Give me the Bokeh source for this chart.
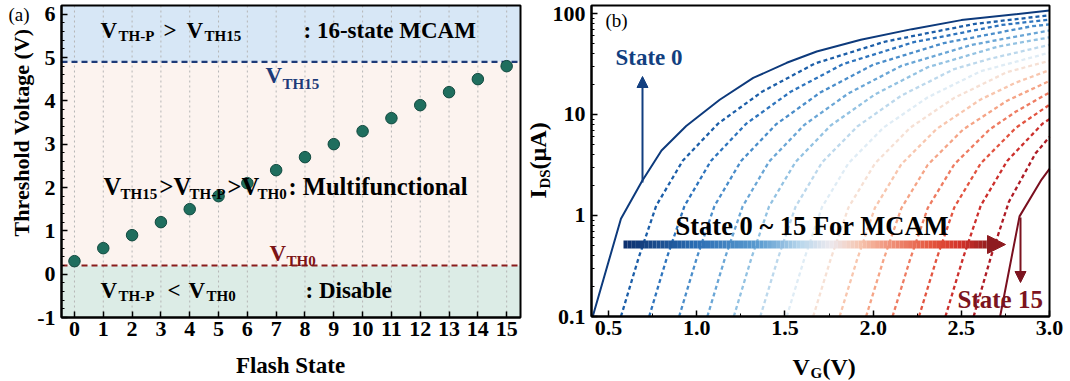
import numpy as np
from bokeh.plotting import figure
from bokeh.models import (Label, Range1d, FixedTicker, PrintfTickFormatter,
                          CustomJSTickFormatter, Arrow, NormalHead, BoxAnnotation,
                          LinearAxis, LogAxis)
from bokeh.layouts import row
from bokeh.embed import file_html
from bokeh.resources import INLINE

# ---------------- data: panel (a) ----------------
flash_state = [0, 1, 2, 3, 4, 5, 6, 7, 8, 9, 10, 11, 12, 13, 14, 15]
threshold_v = [0.3, 0.6, 0.9, 1.2, 1.5, 1.8, 2.1, 2.4, 2.7, 3.0, 3.3, 3.6, 3.9, 4.2, 4.5, 4.8]
vth15_level = 4.9
vth0_level = 0.2
volt_ticks = [-1, 0, 1, 2, 3, 4, 5, 6]

# ---------------- data: panel (b) ----------------
vg_s0 = [0.41, 0.57, 0.69, 0.80, 0.94, 1.13, 1.32, 1.51, 1.68, 1.93, 2.22, 2.50, 3.00]
ids_s0 = [0.10, 0.93, 2.2, 4.4, 7.7, 14, 23, 32.5, 42, 55, 70, 86, 107]
vg_s1 = [0.57, 0.67, 0.77, 0.92, 1.12, 1.37, 1.67, 2.07, 2.57, 3.00]
ids_s1 = [0.10, 0.38, 1.25, 3.48, 8.1, 16.8, 32, 52.8, 78.6, 96]
vg_s2 = [0.73, 0.83, 0.93, 1.08, 1.28, 1.53, 1.83, 2.23, 2.73, 3.00]
ids_s2 = [0.10, 0.38, 1.24, 3.47, 8.1, 16.7, 31.6, 52, 77, 87]
vg_s3 = [0.90, 1.00, 1.10, 1.25, 1.45, 1.70, 2.00, 2.40, 2.90, 3.00]
ids_s3 = [0.10, 0.38, 1.24, 3.45, 8.0, 16.5, 31.1, 50.9, 74.8, 78]
vg_s4 = [1.06, 1.16, 1.26, 1.41, 1.61, 1.86, 2.16, 2.56, 2.81, 3.00]
ids_s4 = [0.10, 0.38, 1.23, 3.42, 7.9, 16.2, 30.3, 49.0, 59, 68]
vg_s5 = [1.21, 1.31, 1.41, 1.56, 1.76, 2.01, 2.31, 2.71, 3.00]
ids_s5 = [0.10, 0.38, 1.23, 3.39, 7.8, 15.8, 29.4, 47.1, 58]
vg_s6 = [1.36, 1.46, 1.56, 1.71, 1.91, 2.16, 2.46, 2.66, 3.00]
ids_s6 = [0.10, 0.375, 1.22, 3.35, 7.6, 15.4, 28.2, 35.5, 49]
vg_s7 = [1.51, 1.61, 1.71, 1.86, 2.06, 2.31, 2.61, 2.81, 3.00]
ids_s7 = [0.10, 0.374, 1.21, 3.29, 7.45, 14.8, 26.8, 33.3, 41]
vg_s8 = [1.66, 1.76, 1.86, 2.01, 2.21, 2.46, 2.76, 3.00]
ids_s8 = [0.10, 0.373, 1.20, 3.27, 7.4, 14.6, 26.3, 34]
vg_s9 = [1.81, 1.91, 2.01, 2.16, 2.36, 2.61, 2.81, 3.00]
ids_s9 = [0.10, 0.371, 1.19, 3.22, 7.2, 14.1, 20.7, 27.5]
vg_s10 = [1.96, 2.06, 2.16, 2.31, 2.51, 2.76, 3.00]
ids_s10 = [0.10, 0.37, 1.18, 3.18, 7.1, 13.7, 21.5]
vg_s11 = [2.11, 2.21, 2.31, 2.46, 2.66, 2.81, 3.00]
ids_s11 = [0.10, 0.37, 1.19, 3.21, 7.1, 10.7, 16.5]
vg_s12 = [2.26, 2.36, 2.46, 2.61, 2.81, 3.00]
ids_s12 = [0.10, 0.373, 1.20, 3.28, 7.4, 12.5]
vg_s13 = [2.41, 2.51, 2.61, 2.76, 2.96, 3.00]
ids_s13 = [0.10, 0.38, 1.25, 3.47, 8.1, 9.0]
vg_s14 = [2.57, 2.67, 2.77, 2.92, 3.00]
ids_s14 = [0.10, 0.40, 1.37, 4.1, 6.0]
vg_s15 = [2.72, 2.83, 2.955, 3.00]
ids_s15 = [0.10, 0.98, 2.27, 2.9]
vg_ticks = [0.5, 1.0, 1.5, 2.0, 2.5, 3.0]
ids_ticks = [0.1, 1, 10, 100]

FONT = "Liberation Serif"
NAVY = "#123f80"
DRED = "#7c1420"
H = 381
W1, W2 = 522, 546


def put(p, fx, fy, px, py, text, size, color="black", style="bold", angle=0.0,
        align="left"):
    """px, py: page pixels of the text start on its baseline (rotated: baseline x)."""
    if angle == 0:
        cx, cy = px, py - 0.36 * size
    else:
        cx, cy = px - 0.36 * size, py
    p.add_layout(Label(x=fx(cx), y=fy(cy), text=text, text_font=FONT,
                       text_font_size=f"{size}px", text_font_style=style,
                       text_color=color, text_align=align,
                       text_baseline="middle", angle=angle))


def style_axis(ax, standoff, size=22):
    ax.axis_line_width = 2
    ax.axis_line_color = "black"
    ax.major_tick_in = 6
    ax.major_tick_out = 0
    ax.minor_tick_in = 3
    ax.minor_tick_out = 0
    ax.major_tick_line_width = 1.5
    ax.minor_tick_line_width = 1
    ax.major_label_text_font = FONT
    ax.major_label_text_font_style = "bold"
    ax.major_label_text_font_size = f"{size}px"
    ax.major_label_text_color = "black"
    ax.major_label_standoff = standoff


# ======================= panel (a) =======================
A_L, A_R, A_T, A_B = 61, 520, 5, 317
AX0, AX1, AY0, AY1 = -0.45, 15.48, -1.0, 6.2
kxa = (AX1 - AX0) / (A_R - A_L)
kya = (AY1 - AY0) / (A_B - A_T)


def ax_x(px):
    return AX0 + (px - A_L) * kxa


def ax_y(py):
    return AY1 - (py - A_T) * kya


pa = figure(width=W1, height=H, x_range=Range1d(ax_x(0), ax_x(W1)),
            y_range=Range1d(ax_y(H), ax_y(0)), output_backend="svg",
            toolbar_location=None, x_axis_location=None, y_axis_location=None,
            min_border=0, min_border_left=0, min_border_right=0,
            min_border_top=0, min_border_bottom=0)
pa.xgrid.visible = False
pa.ygrid.visible = False
pa.outline_line_color = None

pa.add_layout(BoxAnnotation(left=AX0, right=AX1, bottom=vth15_level, top=AY1,
                            fill_color="#d7e7f6", fill_alpha=1, line_alpha=0, level="underlay"))
pa.add_layout(BoxAnnotation(left=AX0, right=AX1, bottom=vth0_level, top=vth15_level,
                            fill_color="#fcf3ef", fill_alpha=1, line_alpha=0, level="underlay"))
pa.add_layout(BoxAnnotation(left=AX0, right=AX1, bottom=AY0, top=vth0_level,
                            fill_color="#dcece6", fill_alpha=1, line_alpha=0, level="underlay"))

pa.segment(x0=flash_state, x1=flash_state, y0=AY0, y1=AY1,
           line_color="#b5b5b5", line_width=1, line_dash="2 3")
pa.segment(x0=AX0, x1=AX1, y0=vth15_level, y1=vth15_level, line_color="#1d3a78",
           line_width=2.2, line_dash="6 4")
pa.segment(x0=AX0, x1=AX1, y0=vth0_level, y1=vth0_level, line_color="#8a1c1c",
           line_width=2.2, line_dash="6 4")

pa.scatter(flash_state, threshold_v, size=11.5, fill_color="#1f6e5e", line_color="#134a40",
           line_width=1)

xa = LinearAxis(fixed_location=AY0, bounds=(AX0, AX1),
                ticker=FixedTicker(ticks=flash_state, minor_ticks=[]))
style_axis(xa, 4)
pa.add_layout(xa, "below")
minor_a = [round(v, 2) for v in np.arange(-1, 6.01, 0.2) if abs(v - round(v)) > 1e-6]
ya = LinearAxis(fixed_location=AX0, bounds=(AY0, AY1),
                ticker=FixedTicker(ticks=volt_ticks, minor_ticks=minor_a),
                formatter=CustomJSTickFormatter(code="return tick.toFixed(0);"))
style_axis(ya, 6)
pa.add_layout(ya, "left")
pa.add_layout(BoxAnnotation(left=AX0, right=AX1, bottom=AY0, top=AY1, fill_alpha=0,
                            line_color="black", line_width=2, line_alpha=1))


def pa_text(px, py, text, size, **kw):
    put(pa, ax_x, ax_y, px, py, text, size, **kw)


M, M2, S = 23, 24.5, 15
# top row
pa_text(100, 38, "V", M)
pa_text(118, 41, "TH-P", S)
pa_text(163, 38, ">", M)
pa_text(186, 38, "V", M)
pa_text(204, 41, "TH15", S)
pa_text(303, 38, ": 16-state MCAM", M)
# middle row
pa_text(103, 195, "V", M2)
pa_text(120, 199, "TH15", S)
pa_text(159, 195, ">V", M2)
pa_text(189, 199, "TH-P", S)
pa_text(227, 195, ">V", M2)
pa_text(257, 199, "TH0", S)
pa_text(288, 195, ": Multifunctional", M2)
# bottom row
pa_text(100, 298, "V", M)
pa_text(118, 301, "TH-P", S)
pa_text(167, 298, "<", M)
pa_text(188, 298, "V", M)
pa_text(206, 301, "TH0", S)
pa_text(305, 298, ": Disable", M)
# level labels
pa_text(265, 83, "V", M, color="#1d3a78")
pa_text(282, 89, "TH15", S, color="#1d3a78")
pa_text(269, 261, "V", M, color="#7c1416")
pa_text(286, 266, "TH0", S, color="#7c1416")
# outside labels
pa_text(29, 132, "Threshold Voltage (V)", 22, angle=np.pi / 2, align="center")
pa_text(290, 373, "Flash State", 23, align="center")
pa_text(8, 21, "(a)", 19, style="normal")

# ======================= panel (b) =======================
OFF = W1  # page x of the left edge of panel (b)
B_L, B_R, B_T, B_B = 591, 1049, 5, 316
BX0, BX1 = 0.403, 3.0
LY_TOP, LY_BOT = np.log10(120.0), -1.0
kxb = (BX1 - BX0) / (B_R - B_L)
kyb = (LY_TOP - LY_BOT) / (B_B - B_T)


def bx_x(px):
    return BX0 + (px - B_L) * kxb


def bx_y(py):
    return 10 ** (LY_TOP - (py - B_T) * kyb)


pb = figure(width=W2, height=H, x_range=Range1d(bx_x(OFF), bx_x(OFF + W2)),
            y_range=Range1d(bx_y(H), bx_y(0)), y_axis_type="log", output_backend="svg",
            toolbar_location=None, x_axis_location=None, y_axis_location=None,
            min_border=0, min_border_left=0, min_border_right=0,
            min_border_top=0, min_border_bottom=0)
pb.xgrid.visible = False
pb.ygrid.visible = False
pb.outline_line_color = None

curves_vg = [vg_s0, vg_s1, vg_s2, vg_s3, vg_s4, vg_s5, vg_s6, vg_s7, vg_s8, vg_s9,
             vg_s10, vg_s11, vg_s12, vg_s13, vg_s14, vg_s15]
curves_ids = [ids_s0, ids_s1, ids_s2, ids_s3, ids_s4, ids_s5, ids_s6, ids_s7, ids_s8,
              ids_s9, ids_s10, ids_s11, ids_s12, ids_s13, ids_s14, ids_s15]
state_colors = ["#0d3a7c", "#1c5ea8", "#2e74bd", "#4a8dca", "#6aa6d6", "#93c2e2",
                "#bcd8ec", "#dfecf5", "#f6e0d4", "#f8c6ae", "#f5a486", "#ee7c62",
                "#e25440", "#cc2f2c", "#ae1b25", "#7a0f1f"]
for i, (vx, iy) in enumerate(zip(curves_vg, curves_ids)):
    solid = i in (0, 15)
    pb.line(vx, iy, line_color=state_colors[i], line_width=2 if solid else 2.3,
            line_dash="solid" if solid else "4 3")

# gradient arrow
stops_px = [623, 695, 760, 800, 830, 860, 880, 930, 960, 990]
stops_col = ["#0c2f6d", "#2a6db3", "#5d9dd1", "#b8d6ec", "#ece9ee", "#f6c4ae",
             "#f2a088", "#e5563e", "#d33229", "#8e1b20"]


def hex2rgb(h):
    return np.array([int(h[i:i + 2], 16) for i in (1, 3, 5)], dtype=float)


rgbs = np.array([hex2rgb(c) for c in stops_col])
px_edges = np.linspace(623, 990, 90)
seg_cols = []
for a, b in zip(px_edges[:-1], px_edges[1:]):
    m = 0.5 * (a + b)
    c = [np.interp(m, stops_px, rgbs[:, k]) for k in range(3)]
    seg_cols.append("#%02x%02x%02x" % tuple(int(round(v)) for v in c))
ybar = bx_y(244)
pb.segment(x0=[bx_x(v) for v in px_edges[:-1]], x1=[bx_x(v) for v in px_edges[1:]],
           y0=ybar, y1=ybar, line_color=seg_cols, line_width=8, line_cap="butt")
pb.add_layout(Arrow(end=NormalHead(size=18, fill_color="#8e1b20", line_color="#8e1b20"),
                    x_start=bx_x(980), y_start=ybar, x_end=bx_x(1005), y_end=ybar,
                    line_alpha=0))

# state 0 / state 15 arrows
pb.add_layout(Arrow(end=NormalHead(size=11, fill_color=NAVY, line_color=NAVY),
                    x_start=bx_x(642), y_start=bx_y(182), x_end=bx_x(642), y_end=bx_y(76),
                    line_color=NAVY, line_width=2))
pb.add_layout(Arrow(end=NormalHead(size=11, fill_color=DRED, line_color=DRED),
                    x_start=bx_x(1020), y_start=bx_y(217), x_end=bx_x(1020), y_end=bx_y(282),
                    line_color=DRED, line_width=2))

# axes
xb = LinearAxis(fixed_location=10 ** LY_BOT, bounds=(BX0, BX1),
                ticker=FixedTicker(ticks=vg_ticks, minor_ticks=[0.75, 1.25, 1.75, 2.25, 2.75]),
                formatter=PrintfTickFormatter(format="%.1f"))
style_axis(xb, 4)
pb.add_layout(xb, "below")
minor_b = [k * d for d in (0.1, 1, 10) for k in range(2, 10)]
yb = LogAxis(fixed_location=BX0, bounds=(10 ** LY_BOT, 10 ** LY_TOP),
             ticker=FixedTicker(ticks=ids_ticks, minor_ticks=minor_b),
             formatter=CustomJSTickFormatter(
                 code="return tick >= 1 ? tick.toFixed(0) : tick.toFixed(1);"))
style_axis(yb, 6)
pb.add_layout(yb, "left")
pb.add_layout(BoxAnnotation(left=BX0, right=BX1, bottom=10 ** LY_BOT, top=10 ** LY_TOP,
                            fill_alpha=0, line_color="black", line_width=2, line_alpha=1))


def pb_text(px, py, text, size, **kw):
    put(pb, bx_x, bx_y, px, py, text, size, **kw)


pb_text(605, 27, "(b)", 19, style="normal")
pb_text(615, 65, "State 0", 23, color=NAVY)
pb_text(675, 235, "State 0 ~ 15 For MCAM", 26.5)
pb_text(957, 308, "State 15", 25, color=DRED)

# axis titles with subscripts
pb_text(546, 198, "I", 24, angle=np.pi / 2)
pb_text(549.5, 188, "DS", 15, angle=np.pi / 2)
pb_text(546, 169, "(µA)", 24, angle=np.pi / 2)
pb_text(792, 375, "V", 24)
pb_text(810, 378, "G", 15)
pb_text(822, 375, "(V)", 24)

layout = row(pa, pb)
open("out.html", "w").write(file_html(layout, INLINE))
